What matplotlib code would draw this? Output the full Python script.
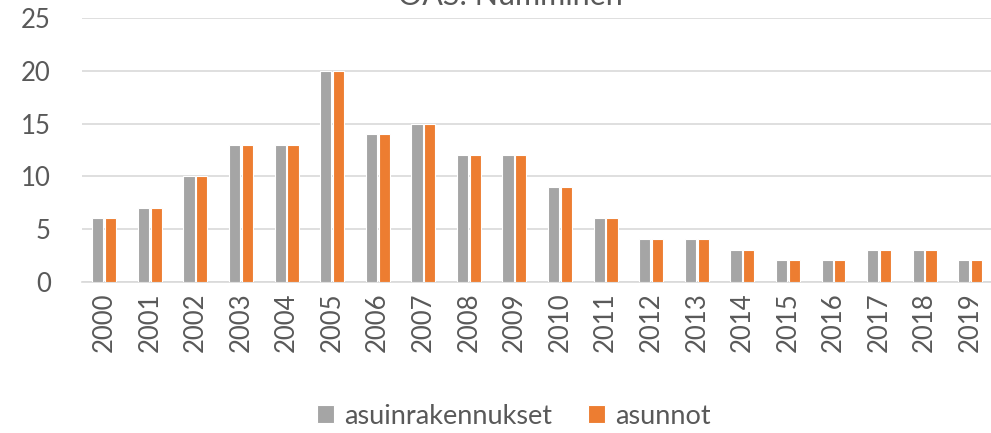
import numpy as np
import matplotlib.pyplot as plt

years = [str(y) for y in range(2000, 2020)]
asuinrakennukset = [6, 7, 10, 13, 13, 20, 14, 15, 12, 12, 9, 6, 4, 4, 3, 2, 2, 3, 3, 2]
asunnot = [6, 7, 10, 13, 13, 20, 14, 15, 12, 12, 9, 6, 4, 4, 3, 2, 2, 3, 3, 2]

text_color = '#595959'
plt.rcParams['font.family'] = ['Lato', 'DejaVu Sans']

fig = plt.figure(figsize=(9.91, 4.33), dpi=100)
ax = fig.add_axes([81.5 / 991, 1 - 281.5 / 433, (993 - 81.5) / 991, (281.5 - 18.3) / 433])

x = np.arange(len(years))
w = 0.245
ax.bar(x - 0.14, asuinrakennukset, width=w, color='#A5A5A5', edgecolor='white',
       linewidth=0.8, label='asuinrakennukset', zorder=3)
ax.bar(x + 0.14, asunnot, width=w, color='#ED7D31', edgecolor='white',
       linewidth=0.8, label='asunnot', zorder=3)

ax.set_xlim(-0.5, len(years) - 0.5)
ax.set_ylim(0, 25)
ax.set_yticks(range(0, 26, 5))
ax.set_xticks(x)
ax.set_xticklabels(years, rotation=90)
ax.tick_params(axis='both', length=0, labelsize=18.5, colors=text_color)
ax.tick_params(axis='x', pad=8)
ax.tick_params(axis='y', pad=22)
ax.grid(axis='y', color='#D9D9D9', linewidth=1.2, zorder=0)
for s in ['top', 'right', 'left']:
    ax.spines[s].set_visible(False)
ax.spines['bottom'].set_color('#D9D9D9')
ax.spines['bottom'].set_linewidth(1.2)

fig.text(510 / 991, 1 - 5 / 433, 'OAS: Numminen', ha='center', va='baseline',
         fontsize=22, color=text_color)

fig.legend(loc='center', bbox_to_anchor=(514 / 991, 1 - 416 / 433), ncol=2,
           frameon=False, fontsize=19.5, labelcolor=text_color, handlelength=0.62,
           handleheight=0.62, handletextpad=0.4, columnspacing=1.3)

fig.savefig('out.png', dpi=100)
